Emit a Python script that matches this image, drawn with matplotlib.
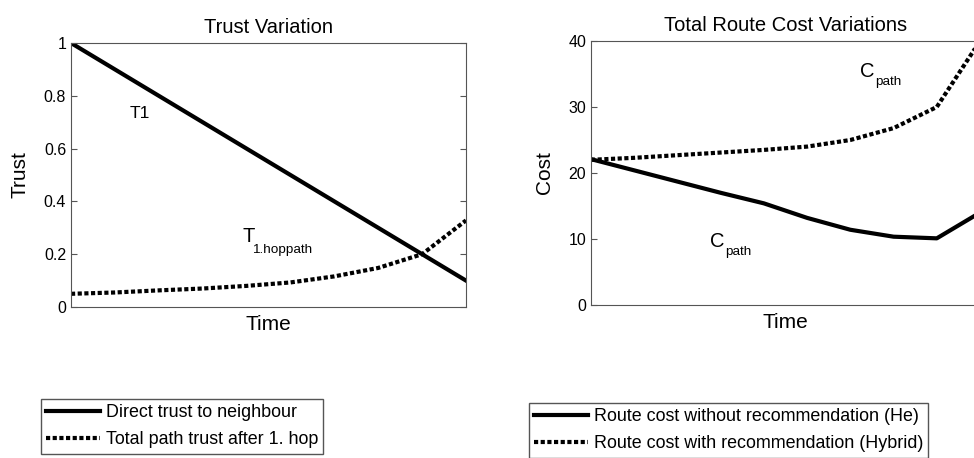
import numpy as np
import matplotlib.pyplot as plt

plt.rcParams['font.family'] = ['Liberation Sans', 'DejaVu Sans']

# Time steps (no tick labels on the time axis)
time = np.arange(1, 11)

# Trust values
direct_trust = [1.0, 0.9, 0.8, 0.7, 0.6, 0.5, 0.4, 0.3, 0.2, 0.1]
path_trust = [0.05, 0.055, 0.063, 0.07, 0.08, 0.093, 0.116, 0.148, 0.2, 0.328]

# Route cost values
cost_he = [22.1, 20.4, 18.7, 17.0, 15.4, 13.2, 11.4, 10.35, 10.1, 14.0]
cost_hybrid = [22.0, 22.3, 22.7, 23.1, 23.5, 24.0, 25.0, 26.8, 30.0, 40.0]

spine_col = '#555555'
dots = (0, (1, 0.6))

fig = plt.figure(figsize=(9.74, 4.58), dpi=100)


def style(ax):
    for s in ax.spines.values():
        s.set_color(spine_col)
        s.set_linewidth(0.8)
    ax.set_xticks([])
    ax.tick_params(axis='y', direction='in', right=True, left=True,
                   length=4, labelsize=11.5, color=spine_col)


def sub_label(ax, x, y, main, sub, dx, dy):
    # main letter plus a subscript placed dx, dy pixels away
    ax.text(x, y, main, fontsize=14.5, va='baseline')
    ax.annotate(sub, (x, y), xytext=(dx * 0.72, -dy * 0.72),
                textcoords='offset points', fontsize=9.7, va='baseline')


def add_legend(ax, left, top):
    ax.legend(loc='upper left', bbox_to_anchor=(left / 974, 1 - top / 458),
              bbox_transform=fig.transFigure, fontsize=12.9, fancybox=False,
              edgecolor=spine_col, framealpha=1, handlelength=3.0,
              borderpad=0.3, labelspacing=0.55, handletextpad=0.3,
              borderaxespad=0)


# Left plot
ax1 = fig.add_axes([71/974, 1 - 307/458, 395/974, 264/458])
ax1.plot(time, direct_trust, color='black', lw=3, label='Direct trust to neighbour')
ax1.plot(time, path_trust, color='black', lw=3, ls=dots,
         label='Total path trust after 1. hop')
ax1.set_xlim(1, 10)
ax1.set_ylim(0, 1)
ax1.set_yticks([0, 0.2, 0.4, 0.6, 0.8, 1])
ax1.set_yticklabels(['0', '0.2', '0.4', '0.6', '0.8', '1'])
style(ax1)
ax1.set_title('Trust Variation', fontsize=14.5, pad=7)
ax1.set_xlabel('Time', fontsize=15, labelpad=6)
ax1.set_ylabel('Trust', fontsize=15, labelpad=10)
ax1.text(2.34, 0.716, 'T1', fontsize=12.5, va='baseline')
sub_label(ax1, 4.9, 0.246, 'T', '1.hoppath', 10, 11)
add_legend(ax1, 41, 399)

# Right plot (extends past the right edge of the figure)
ax2 = fig.add_axes([591/974, 1 - 305/458, 389/974, 264/458])
ax2.plot(time, cost_he, color='black', lw=3,
         label='Route cost without recommendation (He)')
ax2.plot(time, cost_hybrid, color='black', lw=3, ls=dots,
         label='Route cost with recommendation (Hybrid)')
ax2.set_xlim(1, 10)
ax2.set_ylim(0, 40)
ax2.set_yticks([0, 10, 20, 30, 40])
style(ax2)
ax2.set_title('Total Route Cost Variations', fontsize=14.5, pad=7)
ax2.set_xlabel('Time', fontsize=15, labelpad=6)
ax2.set_ylabel('Cost', fontsize=15, labelpad=10)
sub_label(ax2, 7.23, 34.5, 'C', 'path', 15, 8)
sub_label(ax2, 3.75, 8.8, 'C', 'path', 15, 8)
add_legend(ax2, 529, 403)

fig.savefig('out.png', dpi=100)
